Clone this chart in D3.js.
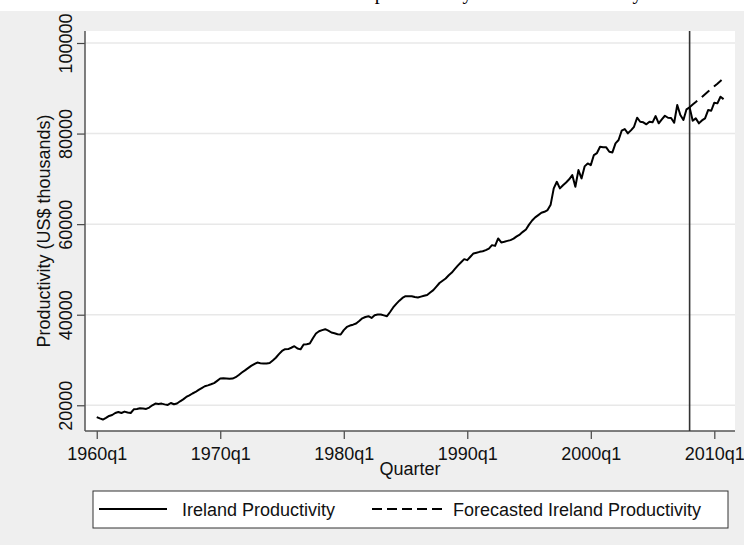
<!DOCTYPE html>
<html><head><meta charset="utf-8">
<script src="https://cdn.jsdelivr.net/npm/d3@7"></script>
<style>html,body{margin:0;padding:0;background:#fff;}svg{display:block;}</style>
</head><body>
<script>
// ---- data ----
const titleText = "Labour productivity in the Irish economy";
const startYear = 1960;
const productivity = [
17400,17100,16850,17200,17640,17860,18300,18520,18300,18600,18400,18300,19100,19200,19340,19300,
19190,19500,20000,20370,20300,20370,20200,20070,20510,20220,20400,20880,21300,21830,22200,22600,
22940,23400,23800,24200,24400,24640,24900,25400,25900,25950,25900,25850,25900,26200,26700,27230,
27700,28200,28700,29100,29430,29300,29220,29250,29350,29900,30500,31300,32000,32380,32400,32700,
33040,32530,32350,33410,33500,33630,34800,35850,36350,36600,36800,36500,36070,35900,35700,35620,
36600,37300,37600,37800,38060,38600,39200,39500,39670,39290,39900,40040,40040,39850,39670,40600,
41600,42400,43100,43700,44090,44100,44090,43900,43800,44000,44200,44350,44900,45420,46200,47000,
47500,48000,48700,49300,50100,50900,51600,52270,52050,52800,53530,53700,53880,54000,54250,54600,
55360,55200,56840,55960,56100,56300,56470,56800,57300,57700,58300,58830,59900,60800,61500,61990,
62500,62720,63100,64300,67890,69350,67890,68600,69200,69900,70830,68250,71940,70100,72750,73410,
73040,75250,75700,77090,77000,76960,75980,75840,77830,78570,80630,81000,80050,80700,81500,83500,
82610,82480,82040,82610,82480,83870,82260,83140,83940,83500,83450,82390,86300,84090,83000,85350,
85790,82830,83360,82260,82900,83360,85190,85040,86810,86670,88130,87600
];
const forecastStart = 192; // 2008q1
const forecast = [85790,86400,86950,87550,88100,88700,89300,89850,90450,91000,91600,92200];
const yTicks = [20000,40000,60000,80000,100000];
const xTickIdx = [0,40,80,120,160,200];
const xTickLabels = ["1960q1","1970q1","1980q1","1990q1","2000q1","2010q1"];
const breakIdx = 192;
const seriesNames = ["Ireland Productivity","Forecasted Ireland Productivity"];
const yTitle = "Productivity (US$ thousands)";
const xTitle = "Quarter";

// ---- chart ----
const W = 744, H = 545;
const svg = d3.select("body").append("svg").attr("width", W).attr("height", H);
const font = "'Liberation Sans', Arial, Helvetica, sans-serif";

svg.append("rect").attr("x",0).attr("y",0).attr("width",W).attr("height",H).attr("fill","#fff");
svg.append("text").attr("x",312).attr("y",-1).attr("font-family","'Liberation Serif','Times New Roman',serif")
  .attr("font-size",20).attr("fill","#000").text(titleText);
svg.append("rect").attr("x",0).attr("y",11).attr("width",W).attr("height",H-11).attr("fill","#efefef");

const L = 85, R = 735, T = 31, B = 431;
svg.append("rect").attr("x",L).attr("y",T).attr("width",R-L).attr("height",B-T).attr("fill","#fff");

const x = d3.scaleLinear().domain([-3.8, 206.7]).range([L, R]);
const y = d3.scaleLinear().domain([14320, 102650]).range([B, T]);

// gridlines
svg.append("g").selectAll("line").data(yTicks).join("line")
  .attr("x1",L).attr("x2",R).attr("y1",d=>y(d)).attr("y2",d=>y(d))
  .attr("stroke","#e8e8e8").attr("stroke-width",1.5);

// y axis
const yAxis = svg.append("g").attr("transform",`translate(${L},0)`)
  .call(d3.axisLeft(y).tickValues(yTicks).tickSize(8).tickFormat(d3.format("d")));
yAxis.select(".domain").remove();
yAxis.selectAll(".tick line").attr("stroke","#444").attr("stroke-width",1.2);
yAxis.selectAll(".tick text").attr("font-family",font).attr("font-size",18).attr("fill","#111")
  .attr("transform","rotate(-90)").attr("text-anchor","middle").attr("x",0).attr("y",-13).attr("dy",0);
svg.append("line").attr("x1",L).attr("x2",L).attr("y1",T).attr("y2",B).attr("stroke","#555").attr("stroke-width",1.5);

// x axis
const xAxis = svg.append("g").attr("transform",`translate(0,${B})`)
  .call(d3.axisBottom(x).tickValues(xTickIdx).tickSize(8).tickFormat((d,i)=>xTickLabels[i]));
xAxis.select(".domain").remove();
xAxis.selectAll(".tick line").attr("stroke","#444").attr("stroke-width",1.2);
xAxis.selectAll(".tick text").attr("font-family",font).attr("font-size",18).attr("fill","#111")
  .attr("y",29).attr("dy",0);
svg.append("line").attr("x1",L).attr("x2",R).attr("y1",B).attr("y2",B).attr("stroke","#555").attr("stroke-width",1.5);

// axis titles
svg.append("text").attr("transform",`translate(50,${(T+B)/2}) rotate(-90)`).attr("text-anchor","middle")
  .attr("font-family",font).attr("font-size",18).attr("fill","#111").text(yTitle);
svg.append("text").attr("x",(L+R)/2).attr("y",475).attr("text-anchor","middle")
  .attr("font-family",font).attr("font-size",18).attr("fill","#111").text(xTitle);

// vertical line
svg.append("line").attr("x1",x(breakIdx)).attr("x2",x(breakIdx)).attr("y1",T).attr("y2",B)
  .attr("stroke","#333").attr("stroke-width",1.6);

// series
const line = d3.line().x(d=>x(d[0])).y(d=>y(d[1]));
svg.append("path").datum(productivity.map((v,i)=>[i,v])).attr("d",line)
  .attr("fill","none").attr("stroke","#000").attr("stroke-width",2).attr("stroke-linejoin","round");
svg.append("path").datum(forecast.map((v,i)=>[forecastStart+i,v])).attr("d",line)
  .attr("fill","none").attr("stroke","#000").attr("stroke-width",2).attr("stroke-dasharray","10,6");

// legend
const lg = svg.append("g");
lg.append("rect").attr("x",93).attr("y",491).attr("width",635).attr("height",37).attr("fill","#fff")
  .attr("stroke","#333").attr("stroke-width",1);
lg.append("line").attr("x1",99).attr("x2",167).attr("y1",509).attr("y2",509).attr("stroke","#000").attr("stroke-width",2);
lg.append("text").attr("x",182).attr("y",516).attr("font-family",font).attr("font-size",18).attr("fill","#111").text(seriesNames[0]);
lg.append("line").attr("x1",372).attr("x2",442).attr("y1",509).attr("y2",509).attr("stroke","#000").attr("stroke-width",2).attr("stroke-dasharray","10,5");
lg.append("text").attr("x",453).attr("y",516).attr("font-family",font).attr("font-size",18).attr("fill","#111").text(seriesNames[1]);
</script>
</body></html>
